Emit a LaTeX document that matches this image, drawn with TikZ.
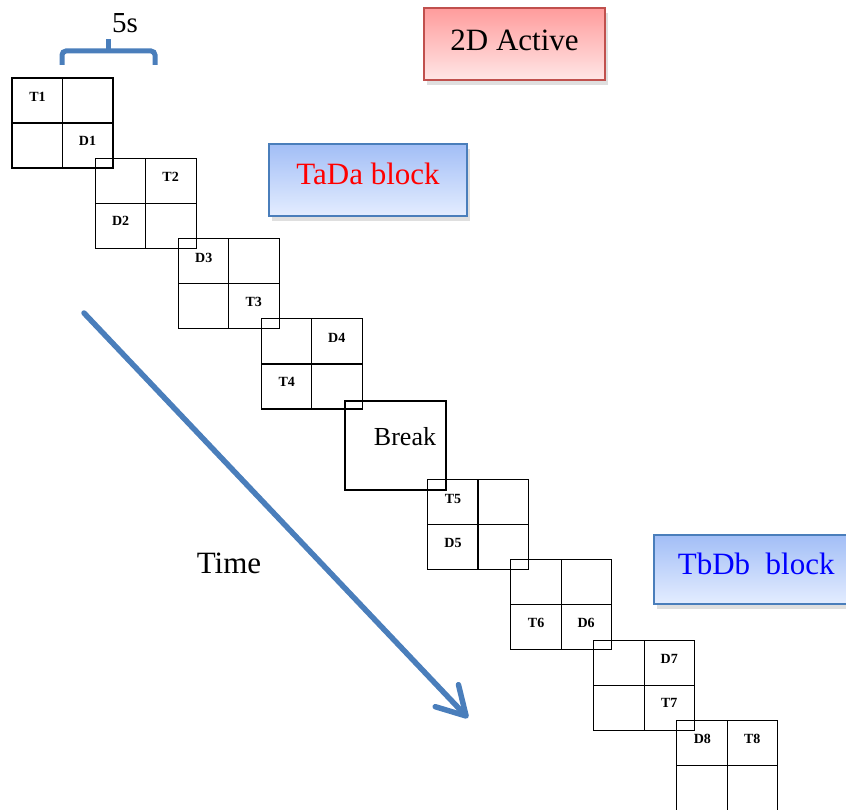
\documentclass[tikz,border=0pt]{standalone}
\usepackage{fontspec}
\setmainfont{Liberation Serif}
\usetikzlibrary{arrows.meta,shadows}

\definecolor{steel}{HTML}{4A7EBB}
\definecolor{redline}{HTML}{C0504D}
\definecolor{pinktop}{HTML}{FF9C9C}
\definecolor{pinkbot}{HTML}{FFE6E6}
\definecolor{bluetop}{HTML}{A2BEF6}
\definecolor{bluebot}{HTML}{E4EDFF}

\tikzset{
  quad/.style={draw, line width=1.2pt, minimum width=101pt, minimum height=90pt, inner sep=0pt,
    path picture={\draw[line width=1.2pt] (path picture bounding box.north) -- (path picture bounding box.south)
      (path picture bounding box.west) -- (path picture bounding box.east);}},
  tag/.style={font=\fontsize{14}{16}\selectfont\bfseries},
  big/.style={font=\fontsize{31}{36}\selectfont},
  soft/.style={drop shadow={opacity=0.25, shadow xshift=3pt, shadow yshift=-5pt}},
  redbox/.style={soft, draw=redline, line width=1.5pt, top color=pinktop, bottom color=pinkbot,
    minimum width=181pt, minimum height=72pt, text depth=8pt},
  bluebox/.style={soft, draw=steel, line width=1.5pt, top color=bluetop, bottom color=bluebot,
    minimum height=72pt, text depth=12pt},
}

\begin{document}
\begin{tikzpicture}[x=1pt, y=-1pt]
\useasboundingbox (0,0) rectangle (846,810);

%title boxes
\node[redbox, big] (active) at (514.5,44) {2D Active};
\node[bluebox, big, text=red, minimum width=198pt] (tada) at (368,180) {TaDa block};
\node[bluebox, big, text=blue, minimum width=205pt, minimum height=69pt, anchor=west] (tbdb) at (653,569.5) {TbDb\ \ block};

%grids
\foreach \k/\tl/\tr/\bl/\br in {0/T1/{}/{}/D1, 1/{}/T2/D2/{}, 2/D3/{}/{}/T3, 3/{}/D4/T4/{},
    5/T5/{}/D5/{}, 6/{}/{}/T6/D6, 7/{}/D7/{}/T7, 8/D8/T8/{}/{}}{
  \node[quad] (g\k) at ({62.5+83.1*\k},{123+80.3*\k}) {};
  \node[tag] (g\k tl) at ([shift={(-25,-26)}]g\k.center) {\tl};
  \node[tag] (g\k tr) at ([shift={(25,-26)}]g\k.center) {\tr};
  \node[tag] (g\k bl) at ([shift={(-25,18)}]g\k.center) {\bl};
  \node[tag] (g\k br) at ([shift={(25,18)}]g\k.center) {\br};
}

%break
\node[draw, line width=1.2pt, minimum width=101pt, minimum height=89pt] (pause) at (395.5,445.5) {};
\node[font=\fontsize{26}{30}\selectfont] (pausetxt) at (405,437) {Break};

%brace
\draw[steel, line width=5pt, rounded corners=4pt] (62,65) -- (62,51) -- (155,51) -- (155,65);
\draw[steel, line width=5pt] (108,52) -- (108,39);
\node[font=\fontsize{29}{32}\selectfont] (span) at (125,23) {5s};

%time axis
\coordinate (tstart) at (84,313);
\coordinate (tend) at (468,718);
\draw[steel, line width=5.5pt, line cap=round, -{Straight Barb[length=28pt, width=32pt, round]}] (tstart) -- (tend);
\node[big] (time) at (229,563) {Time};
\end{tikzpicture}
\end{document}
